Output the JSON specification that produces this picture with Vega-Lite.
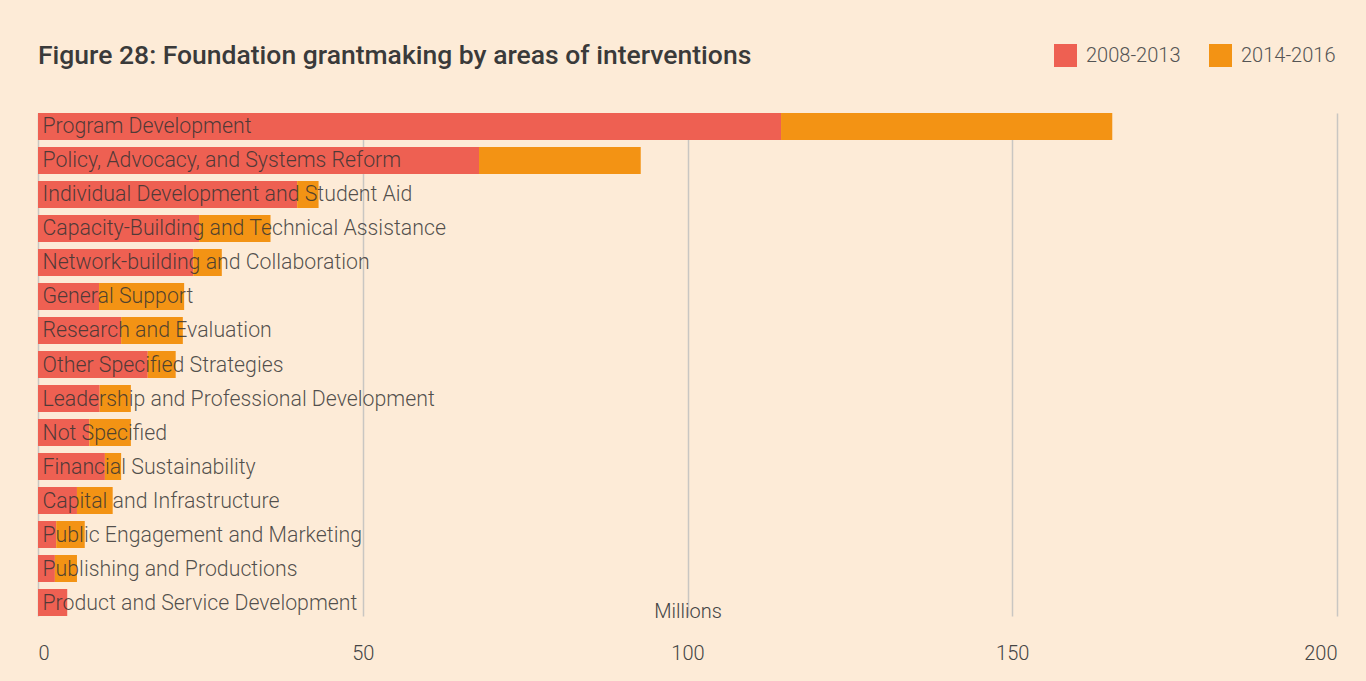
{
  "$schema": "https://vega.github.io/schema/vega-lite/v6.json",
  "autosize": "none",
  "width": 1299,
  "height": 503,
  "padding": {"left": 38, "top": 113, "right": 29, "bottom": 65},
  "background": "#fdebd7",
  "config": {
    "view": {"stroke": null},
    "font": "Roboto"
  },
  "title": {
    "text": "Figure 28: Foundation grantmaking by areas of interventions",
    "anchor": "start",
    "frame": "group",
    "fontSize": 26.5,
    "fontWeight": 500,
    "color": "#3a3a3a",
    "font": "Roboto",
    "baseline": "alphabetic",
    "offset": -46
  },
  "data": {
    "values": [
      {"area": "Program Development", "period": "2008-2013", "amount": 114.4},
      {"area": "Program Development", "period": "2014-2016", "amount": 51.0},
      {"area": "Policy, Advocacy, and Systems Reform", "period": "2008-2013", "amount": 67.9},
      {"area": "Policy, Advocacy, and Systems Reform", "period": "2014-2016", "amount": 24.9},
      {"area": "Individual Development and Student Aid", "period": "2008-2013", "amount": 39.9},
      {"area": "Individual Development and Student Aid", "period": "2014-2016", "amount": 3.3},
      {"area": "Capacity-Building and Technical Assistance", "period": "2008-2013", "amount": 24.8},
      {"area": "Capacity-Building and Technical Assistance", "period": "2014-2016", "amount": 11.0},
      {"area": "Network-building and Collaboration", "period": "2008-2013", "amount": 23.9},
      {"area": "Network-building and Collaboration", "period": "2014-2016", "amount": 4.4},
      {"area": "General Support", "period": "2008-2013", "amount": 9.4},
      {"area": "General Support", "period": "2014-2016", "amount": 13.1},
      {"area": "Research and Evaluation", "period": "2008-2013", "amount": 12.8},
      {"area": "Research and Evaluation", "period": "2014-2016", "amount": 9.5},
      {"area": "Other Specified Strategies", "period": "2008-2013", "amount": 16.9},
      {"area": "Other Specified Strategies", "period": "2014-2016", "amount": 4.3},
      {"area": "Leadership and Professional Development", "period": "2008-2013", "amount": 9.5},
      {"area": "Leadership and Professional Development", "period": "2014-2016", "amount": 4.8},
      {"area": "Not Specified", "period": "2008-2013", "amount": 7.9},
      {"area": "Not Specified", "period": "2014-2016", "amount": 6.4},
      {"area": "Financial Sustainability", "period": "2008-2013", "amount": 10.3},
      {"area": "Financial Sustainability", "period": "2014-2016", "amount": 2.5},
      {"area": "Capital and Infrastructure", "period": "2008-2013", "amount": 6.0},
      {"area": "Capital and Infrastructure", "period": "2014-2016", "amount": 5.5},
      {"area": "Public Engagement and Marketing", "period": "2008-2013", "amount": 2.8},
      {"area": "Public Engagement and Marketing", "period": "2014-2016", "amount": 4.4},
      {"area": "Publishing and Productions", "period": "2008-2013", "amount": 2.6},
      {"area": "Publishing and Productions", "period": "2014-2016", "amount": 3.4},
      {"area": "Product and Service Development", "period": "2008-2013", "amount": 4.5},
      {"area": "Product and Service Development", "period": "2014-2016", "amount": 0}
    ]
  },
  "mark": {"type": "bar"},
  "encoding": {
    "y": {
      "field": "area",
      "type": "nominal",
      "sort": null,
      "scale": {"paddingInner": 0.206, "paddingOuter": 0},
      "axis": {
        "title": null,
        "domain": false,
        "ticks": false,
        "tickSize": 0,
        "labelAlign": "left",
        "labelPadding": -4,
        "labelLimit": 0,
        "labelFontSize": 21.3,
        "labelFontWeight": 300,
        "labelColor": "#333333",
        "labelOpacity": 0.85,
        "labelFont": "Roboto",
        "labelBaseline": "middle",
        "labelOffset": 1,
        "zindex": 2
      }
    },
    "x": {
      "field": "amount",
      "type": "quantitative",
      "stack": "zero",
      "scale": {"domain": [0, 200], "nice": false},
      "axis": {
        "title": "Millions",
        "titleFontSize": 20,
        "titleFontWeight": 300,
        "titleColor": "#444444",
        "titleBaseline": "alphabetic",
        "titleY": 1,
        "titleFont": "Roboto",
        "values": [0, 50, 100, 150, 200],
        "domain": false,
        "ticks": false,
        "grid": true,
        "gridColor": "#c9c6c2",
        "gridWidth": 1.5,
        "labelFontSize": 20,
        "labelFontWeight": 300,
        "labelColor": "#444444",
        "labelPadding": 27,
        "labelFlush": true,
        "labelFont": "Roboto",
        "zindex": 0
      }
    },
    "color": {
      "field": "period",
      "type": "nominal",
      "scale": {"domain": ["2008-2013", "2014-2016"], "range": ["#ee6052", "#f39314"]},
      "legend": {
        "title": null,
        "orient": "none",
        "direction": "horizontal",
        "legendX": 1016,
        "legendY": -69,
        "symbolType": "square",
        "symbolSize": 529,
        "symbolStrokeWidth": 0,
        "symbolOpacity": 1,
        "labelFontSize": 20,
        "labelFontWeight": 300,
        "labelColor": "#555555",
        "labelFont": "Roboto",
        "labelOffset": 9,
        "columnPadding": 28,
        "padding": 0
      }
    },
    "order": {"field": "period", "sort": "ascending"}
  }
}
